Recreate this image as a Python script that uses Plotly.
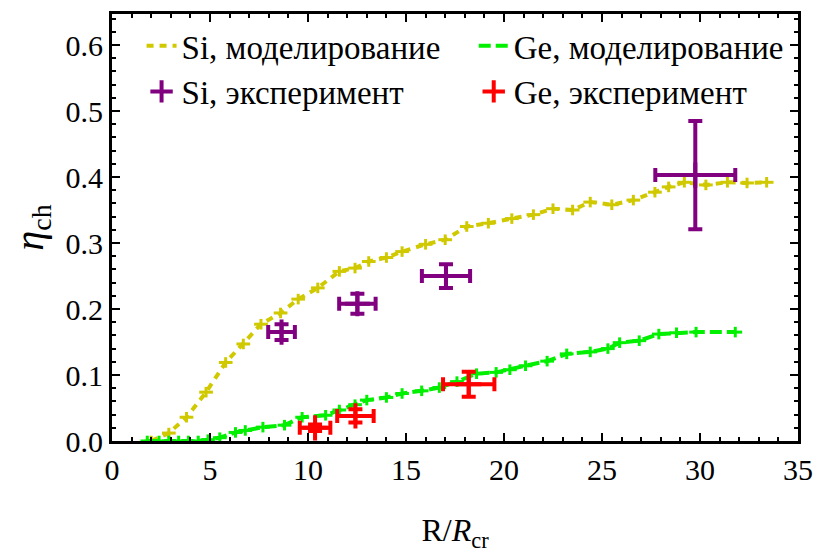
import plotly.graph_objects as go

# ---- data ----
si_sim_x = [2.0, 2.9, 3.8, 4.8, 5.8, 6.7, 7.6, 8.6, 9.5, 10.5, 11.6, 12.4, 13.1, 14.0, 14.8,
            16.0, 17.0, 18.1, 19.2, 20.4, 21.5, 22.5, 23.5, 24.4, 25.5, 26.6, 27.7, 28.4,
            29.2, 30.3, 31.4, 32.4, 33.4]
si_sim_y = [0.0, 0.012, 0.036, 0.074, 0.119, 0.147, 0.177, 0.194, 0.215, 0.232, 0.257, 0.262,
            0.272, 0.278, 0.287, 0.298, 0.305, 0.325, 0.330, 0.337, 0.343, 0.352, 0.350, 0.362,
            0.358, 0.365, 0.377, 0.385, 0.392, 0.388, 0.392, 0.391, 0.392]

ge_sim_x = [1.8, 2.4, 2.9, 3.4, 3.9, 4.4, 4.9, 5.5, 6.3, 6.8, 7.7, 8.8, 9.7, 10.9, 11.6, 12.4,
            13.0, 14.0, 14.8, 15.8, 16.7, 17.6, 18.6, 19.6, 20.3, 21.1, 22.2, 23.2, 24.4, 25.3,
            25.9, 26.9, 27.9, 28.8, 29.8, 31.8]
ge_sim_y = [0.0, 0.0, 0.0, 0.0, 0.0, 0.0, 0.002, 0.005, 0.013, 0.016, 0.021, 0.024, 0.036, 0.039,
            0.047, 0.055, 0.062, 0.066, 0.072, 0.076, 0.081, 0.090, 0.102, 0.104, 0.108, 0.114,
            0.121, 0.132, 0.135, 0.140, 0.149, 0.152, 0.162, 0.164, 0.165, 0.165]

sim_xerr = 0.35
sim_yerr = 0.008

si_exp_x = [8.65, 12.52, 17.04, 29.76]
si_exp_y = [0.165, 0.208, 0.250, 0.403]
si_exp_xerr = [0.68, 0.93, 1.23, 2.04]
si_exp_yerr = [0.012, 0.015, 0.018, 0.082]

ge_exp_x = [10.36, 12.42, 18.2]
ge_exp_y = [0.020, 0.038, 0.086]
ge_exp_xerr = [0.78, 0.93, 1.31]
ge_exp_yerr = [0.005, 0.010, 0.019]

labels = ["Si, моделирование", "Si, эксперимент", "Ge, моделирование", "Ge, эксперимент"]

YELLOW = "#D0C900"
GREEN = "#00F000"
PURPLE = "#800080"
RED = "#FF0000"
FONT = "'Liberation Serif', 'Times New Roman', Times, serif"

fig = go.Figure()

fig.add_trace(go.Scatter(
    x=si_sim_x, y=si_sim_y, mode="lines", name=labels[0], legend="legend",
    line=dict(color=YELLOW, width=4, dash="7px,6px"),
    error_x=dict(type="constant", value=sim_xerr, color=YELLOW, thickness=3, width=0),
    error_y=dict(type="constant", value=sim_yerr, color=YELLOW, thickness=3, width=0),
))
fig.add_trace(go.Scatter(
    x=ge_sim_x, y=ge_sim_y, mode="lines", name=labels[2], legend="legend2",
    line=dict(color=GREEN, width=4, dash="12px,5px"),
    error_x=dict(type="constant", value=sim_xerr, color=GREEN, thickness=3, width=0),
    error_y=dict(type="constant", value=sim_yerr, color=GREEN, thickness=3, width=0),
))
fig.add_trace(go.Scatter(
    x=si_exp_x, y=si_exp_y, mode="markers", name=labels[1], legend="legend3",
    marker=dict(symbol="cross-thin", size=18, color=PURPLE, line=dict(color=PURPLE, width=4)),
    error_x=dict(type="data", array=si_exp_xerr, color=PURPLE, thickness=4, width=7),
    error_y=dict(type="data", array=si_exp_yerr, color=PURPLE, thickness=4, width=7),
))
fig.add_trace(go.Scatter(
    x=ge_exp_x, y=ge_exp_y, mode="markers", name=labels[3], legend="legend4",
    marker=dict(symbol="cross-thin", size=18, color=RED, line=dict(color=RED, width=4)),
    error_x=dict(type="data", array=ge_exp_xerr, color=RED, thickness=4, width=7),
    error_y=dict(type="data", array=ge_exp_yerr, color=RED, thickness=4, width=7),
))

axis_common = dict(
    showgrid=False, zeroline=False, showline=True, linecolor="black", linewidth=3,
    mirror="allticks", ticks="inside", ticklen=8, tickwidth=2, tickcolor="black",
    tickfont=dict(family=FONT, size=30, color="black"),
)

fig.update_xaxes(
    range=[0, 35], tick0=0, dtick=5,
    minor=dict(ticks="inside", ticklen=4, tickwidth=2, tickcolor="black", dtick=1),
    title=dict(text="R/<i>R</i><sub>cr</sub>", font=dict(family=FONT, size=32, color="black"),
               standoff=34),
    **axis_common,
)
fig.update_yaxes(
    range=[0, 0.647], tick0=0, dtick=0.1, tickformat=".1f",
    minor=dict(ticks="inside", ticklen=4, tickwidth=2, tickcolor="black", dtick=0.02),
    title=dict(text="<i>η</i><sub>ch</sub>", font=dict(family=FONT, size=40, color="black"),
               standoff=10),
    **axis_common,
)

def leg(xpx, ypx):
    return dict(
        orientation="v", xanchor="left", yanchor="middle",
        x=(xpx - 112) / 696, y=(441 - ypx) / 430,
        font=dict(family=FONT, size=33, color="black"),
        bgcolor="rgba(0,0,0,0)",
    )

fig.update_layout(
    width=824, height=555,
    margin=dict(l=112, r=16, t=11, b=114),
    paper_bgcolor="white", plot_bgcolor="white",
    font=dict(family=FONT, color="black"),
    showlegend=True,
    legend=leg(142, 43),
    legend2=leg(479, 43),
    legend3=leg(142, 89),
    legend4=leg(479, 89),
)

fig.write_html("out.html")
